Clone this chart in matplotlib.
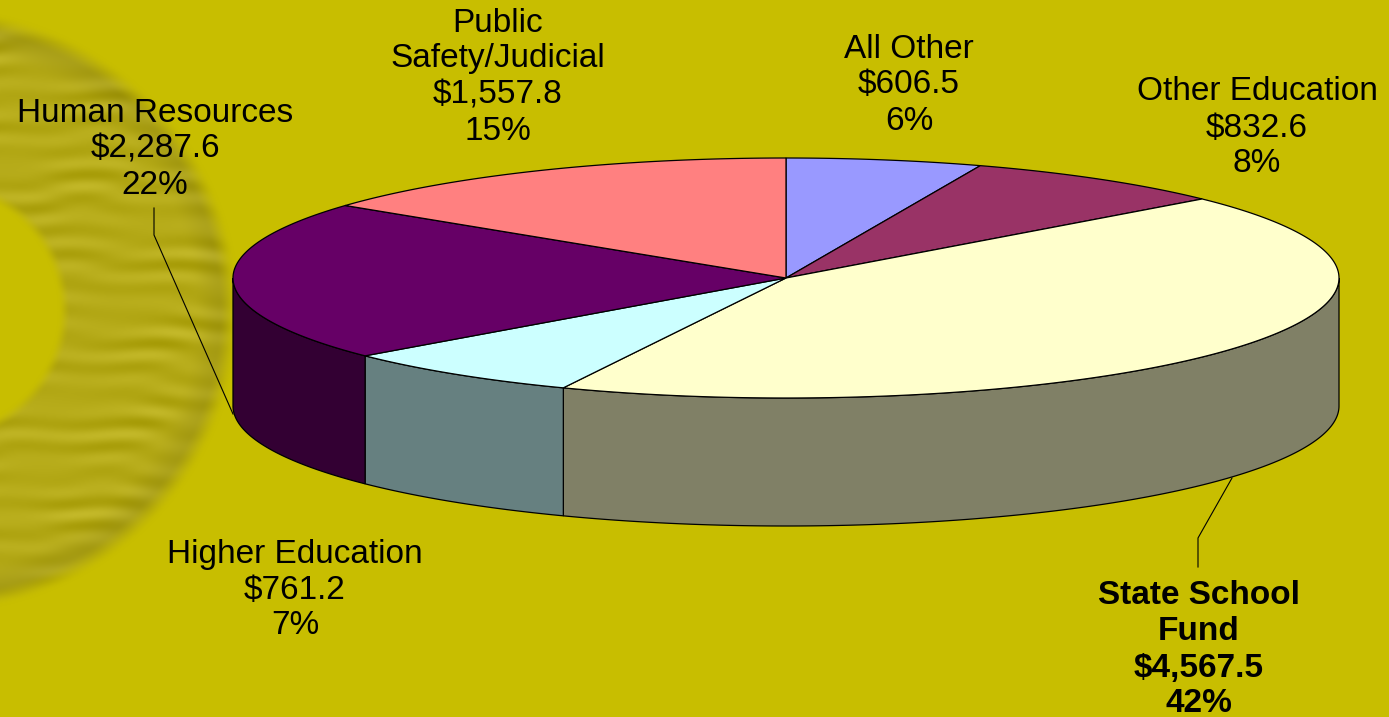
import numpy as np
import matplotlib
matplotlib.use('Agg')
import matplotlib.pyplot as plt

# budget slices, clockwise from 12 o'clock
categories = ['All Other', 'Other Education', 'State School\nFund', 'Higher Education',
              'Human Resources', 'Public\nSafety/Judicial']
amounts = [606.5, 832.6, 4567.5, 761.2, 2287.6, 1557.8]
amount_labels = ['$606.5', '$832.6', '$4,567.5', '$761.2', '$2,287.6', '$1,557.8']
percents = ['6%', '8%', '42%', '7%', '22%', '15%']

top_colors = ['#9999FF', '#993366', '#FFFFCC', '#CCFFFF', '#660066', '#FF8080']
side_colors = ['#4D4D80', '#4D1A33', '#808066', '#668080', '#330033', '#804040']

# label position: centre x, y of first line, line step
label_pos = [(909, 49, 36), (1257, 92, 36), (1199, 596, 36), (295, 554, 36), (155, 113, 36), (498, 23, 36)]

W, H = 1389, 717
BG = np.array([200, 190, 0]) / 255
CX, CY, RX, RY, DEPTH = 786, 278, 553, 120, 128


def smooth(v):
    v = np.clip(v, 0, 1)
    return v * v * (3 - 2 * v)


def background():
    # blurred, wavy ring at the left edge of the slide
    y, x = np.mgrid[0:H, 0:300]
    r = np.hypot(x + 63, y - 310)
    mask = smooth((303 - r) / 22) * smooth((r - 120) / 14)
    wave = (np.sin(y / 4.3 + 1.4 * np.sin(x / 47) + 0.7 * np.sin(x / 19 + y / 60))
            + 0.35 * np.sin(y / 3.1 + 1.1 * np.sin(x / 31 + 2)))
    patch = 0.6 + 0.4 * np.sin(x / 38 + y / 21) * np.sin(y / 33 - x / 70)
    light = wave * patch
    shade = np.stack([181 + 11 * light, 170 + 11 * light, 24 + 13 * light], axis=-1) / 255
    # darker rim where the ring falls off on its outer edge
    rim_dark = smooth((r - 255) / 30)[..., None] * 0.07
    shade = shade * (1 - rim_dark)
    img = BG[None, None, :] * (1 - mask[..., None]) + shade * mask[..., None]
    return np.clip(img, 0, 1)


def rim(a0, a1, n=200):
    t = np.radians(np.linspace(a0, a1, n))
    return CX + RX * np.cos(t), CY - RY * np.sin(t)


def main():
    plt.rcParams['font.family'] = ['Liberation Sans', 'DejaVu Sans']
    fig = plt.figure(figsize=(W / 100, H / 100), dpi=100, facecolor=BG)
    ax = fig.add_axes([0, 0, 1, 1])
    ax.axis('off')
    ax.imshow(background(), extent=(0, 300, H, 0), aspect='auto', zorder=0, interpolation='bilinear')
    ax.set_xlim(0, W)
    ax.set_ylim(H, 0)

    # slice angles in ellipse parameter space
    vals = np.array(amounts)
    cum = np.concatenate([[0], np.cumsum(vals) / vals.sum() * 360])
    starts = 90 - cum[:-1]
    ends = 90 - cum[1:]

    # side walls, only the front half of the rim shows
    for a0, a1, col in zip(starts, ends, side_colors):
        lo, hi = max(a1, -180), min(a0, 0)
        if lo >= hi:
            continue
        xs, ys = rim(hi, lo)
        px = np.concatenate([xs, xs[::-1]])
        py = np.concatenate([ys, ys[::-1] + DEPTH])
        ax.fill(px, py, facecolor=col, edgecolor='black', linewidth=0.9, zorder=2)

    # top face
    for a0, a1, col in zip(starts, ends, top_colors):
        xs, ys = rim(a0, a1)
        ax.fill(np.r_[CX, xs], np.r_[CY, ys], facecolor=col, edgecolor='black', linewidth=0.9, zorder=3)

    # leader lines
    ax.plot([154, 154, 233], [208, 235, 414], color='black', lw=0.8, zorder=1.5)
    ax.plot([1198, 1198, 1232], [567, 538, 478], color='black', lw=0.8, zorder=1.5)

    for name, amt, pct, (x, y, step) in zip(categories, amount_labels, percents, label_pos):
        weight = 'bold' if name.startswith('State') else 'normal'
        lines = name.split('\n') + [amt, pct]
        for i, line in enumerate(lines):
            ax.text(x, y + i * step, line, ha='center', va='center', fontsize=24,
                    fontweight=weight, color='black', zorder=5)

    fig.savefig('out.png', dpi=100, facecolor=fig.get_facecolor())
    plt.close()


if __name__ == '__main__':
    main()
